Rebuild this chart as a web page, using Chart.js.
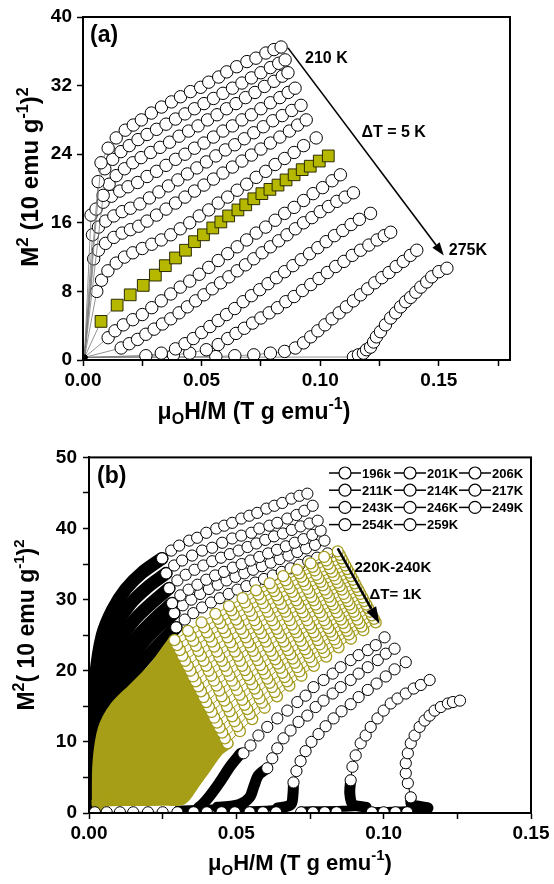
<!DOCTYPE html>
<html>
<head>
<meta charset="utf-8">
<script src="https://cdn.jsdelivr.net/npm/chart.js@4.4.1/dist/chart.umd.min.js"></script>
<style>
  html, body { margin: 0; padding: 0; background: #fff; }
  #wrap { position: relative; width: 554px; height: 884px; }
  canvas { position: absolute; left: 0; }
  #chartA { top: 0; }
  #chartB { top: 440px; }
</style>
</head>
<body>
<div id="wrap">
  <canvas id="chartA" width="554" height="440"></canvas>
  <canvas id="chartB" width="554" height="444"></canvas>
</div>
<script>
// ---------- panel (a): M^2 vs H/M, 210 K .. 275 K, step 5 K ----------
const a210 = [[0.0006,0.3],[0.0076,23.0],[0.0106,24.7],[0.0140,25.9],[0.0178,26.8],[0.0212,27.4],[0.0246,28.0],[0.0288,28.8],[0.0331,29.5],[0.0373,30.1],[0.0411,30.7],[0.0453,31.3],[0.0496,31.8],[0.0530,32.4],[0.0572,33.0],[0.0606,33.6],[0.0648,34.2],[0.0691,34.8],[0.0729,35.2],[0.0771,35.8],[0.0805,36.2],[0.0835,36.5]];
const a215 = [[0.0006,0.3],[0.0064,20.8],[0.0092,22.3],[0.0125,23.4],[0.0160,24.3],[0.0195,25.0],[0.0232,25.7],[0.0270,26.3],[0.0310,26.9],[0.0350,27.5],[0.0390,28.1],[0.0430,28.7],[0.0470,29.3],[0.0510,29.9],[0.0550,30.5],[0.0590,31.1],[0.0630,31.7],[0.0670,32.3],[0.0710,32.9],[0.0750,33.5],[0.0790,34.1],[0.0825,34.6],[0.0852,35.0]];
const a220 = [[0.0006,0.3],[0.0085,19.2],[0.0110,20.5],[0.0140,21.5],[0.0175,22.3],[0.0210,23.0],[0.0245,23.6],[0.0285,24.2],[0.0325,24.8],[0.0365,25.4],[0.0405,26.1],[0.0445,26.7],[0.0485,27.3],[0.0525,28.0],[0.0565,28.6],[0.0605,29.3],[0.0645,29.9],[0.0685,30.6],[0.0725,31.2],[0.0765,31.9],[0.0805,32.5],[0.0840,33.1],[0.0864,33.5]];
const a225 = [[0.0006,0.3],[0.0034,16.9],[0.0055,17.6],[0.0085,18.4],[0.0120,19.1],[0.0155,19.7],[0.0190,20.2],[0.0230,20.7],[0.0270,21.4],[0.0310,22.0],[0.0350,22.7],[0.0390,23.4],[0.0430,24.0],[0.0470,24.7],[0.0510,25.3],[0.0550,26.0],[0.0590,26.7],[0.0630,27.3],[0.0670,28.0],[0.0710,28.6],[0.0750,29.3],[0.0790,30.0],[0.0830,30.6],[0.0865,31.2],[0.0894,31.7]];
const a230 = [[0.0006,0.3],[0.0040,14.6],[0.0065,15.5],[0.0095,16.2],[0.0130,16.8],[0.0165,17.3],[0.0200,17.7],[0.0240,18.2],[0.0280,18.9],[0.0320,19.6],[0.0360,20.3],[0.0400,21.0],[0.0440,21.7],[0.0480,22.4],[0.0520,23.1],[0.0560,23.8],[0.0600,24.5],[0.0640,25.1],[0.0680,25.8],[0.0720,26.5],[0.0760,27.2],[0.0800,27.9],[0.0840,28.5],[0.0880,29.1],[0.0919,29.7]];
const a235 = [[0.0006,0.3],[0.0045,11.8],[0.0065,12.8],[0.0095,13.6],[0.0130,14.3],[0.0165,14.8],[0.0200,15.2],[0.0235,15.6],[0.0270,16.2],[0.0310,16.9],[0.0350,17.6],[0.0390,18.3],[0.0430,19.0],[0.0470,19.7],[0.0510,20.4],[0.0550,21.1],[0.0590,21.8],[0.0630,22.5],[0.0670,23.2],[0.0710,23.9],[0.0750,24.6],[0.0790,25.3],[0.0830,26.0],[0.0870,26.7],[0.0905,27.4],[0.0941,28.0]];
const a240 = [[0.0006,0.3],[0.0058,8.0],[0.0078,9.3],[0.0105,10.4],[0.0140,11.3],[0.0175,12.0],[0.0210,12.5],[0.0250,13.0],[0.0290,13.5],[0.0330,14.0],[0.0370,14.6],[0.0410,15.3],[0.0450,16.0],[0.0490,16.8],[0.0530,17.5],[0.0570,18.3],[0.0610,19.0],[0.0650,19.8],[0.0690,20.5],[0.0730,21.3],[0.0770,22.0],[0.0810,22.8],[0.0850,23.5],[0.0890,24.2],[0.0930,25.0],[0.0983,25.9]];
const a245 = [[0.0006,0.3],[0.0076,4.5],[0.0144,6.4],[0.0199,7.6],[0.0254,8.7],[0.0305,9.9],[0.0347,11.0],[0.0390,11.9],[0.0432,12.8],[0.0470,13.8],[0.0508,14.6],[0.0547,15.4],[0.0581,16.1],[0.0614,16.8],[0.0653,17.5],[0.0686,18.1],[0.0720,18.8],[0.0754,19.4],[0.0788,19.9],[0.0822,20.4],[0.0856,21.0],[0.0890,21.6],[0.0924,22.2],[0.0958,22.6],[0.0996,23.2],[0.1034,23.8]];
const a250 = [[0.0006,0.3],[0.0106,2.6],[0.0135,3.4],[0.0170,4.1],[0.0210,4.7],[0.0250,5.3],[0.0290,6.1],[0.0330,6.9],[0.0370,7.7],[0.0410,8.5],[0.0450,9.2],[0.0490,10.0],[0.0530,10.8],[0.0570,11.6],[0.0610,12.4],[0.0650,13.2],[0.0690,14.0],[0.0730,14.8],[0.0770,15.5],[0.0810,16.3],[0.0850,17.1],[0.0890,17.8],[0.0930,18.6],[0.0970,19.4],[0.1010,20.1],[0.1050,20.9],[0.1085,21.6]];
const a255 = [[0.0006,0.3],[0.0161,1.4],[0.0195,1.9],[0.0230,2.4],[0.0265,3.0],[0.0300,3.6],[0.0335,4.2],[0.0370,4.8],[0.0405,5.5],[0.0440,6.2],[0.0475,6.9],[0.0510,7.6],[0.0545,8.3],[0.0580,9.0],[0.0615,9.7],[0.0650,10.4],[0.0685,11.1],[0.0720,11.8],[0.0755,12.5],[0.0790,13.2],[0.0825,13.9],[0.0860,14.6],[0.0895,15.3],[0.0930,16.0],[0.0965,16.6],[0.1000,17.3],[0.1035,17.9],[0.1070,18.5],[0.1105,19.0],[0.1140,19.5]];
const a260 = [[0.0006,0.3],[0.0265,0.5],[0.0330,0.8],[0.0390,1.3],[0.0430,1.9],[0.0465,2.5],[0.0500,3.2],[0.0535,3.9],[0.0570,4.6],[0.0605,5.3],[0.0640,6.0],[0.0675,6.8],[0.0710,7.5],[0.0745,8.2],[0.0780,8.9],[0.0815,9.6],[0.0850,10.3],[0.0885,11.0],[0.0920,11.7],[0.0955,12.4],[0.0990,13.1],[0.1025,13.8],[0.1060,14.5],[0.1095,15.1],[0.1130,15.8],[0.1165,16.4],[0.1212,17.1]];
const a265 = [[0.0006,0.3],[0.0381,0.6],[0.0450,0.8],[0.0520,1.2],[0.0570,1.8],[0.0610,2.5],[0.0645,3.1],[0.0680,3.7],[0.0715,4.3],[0.0750,4.9],[0.0785,5.5],[0.0820,6.1],[0.0855,6.8],[0.0890,7.4],[0.0925,8.1],[0.0960,8.8],[0.0995,9.5],[0.1030,10.2],[0.1065,10.9],[0.1100,11.5],[0.1135,12.2],[0.1170,12.8],[0.1205,13.4],[0.1240,14.0],[0.1270,14.5],[0.1297,14.9]];
const a270 = [[0.0006,0.3],[0.0560,0.4],[0.0640,0.5],[0.0720,0.6],[0.0790,0.8],[0.0850,1.0],[0.0895,1.4],[0.0930,2.0],[0.0960,2.7],[0.0990,3.4],[0.1020,4.1],[0.1050,4.8],[0.1080,5.5],[0.1110,6.2],[0.1140,6.9],[0.1170,7.6],[0.1200,8.3],[0.1230,9.0],[0.1260,9.6],[0.1290,10.2],[0.1320,10.9],[0.1350,11.5],[0.1380,12.2],[0.1407,12.8]];
const a275 = [[0.0006,0.3],[0.1140,0.35],[0.1161,0.6],[0.1182,0.8],[0.1195,1.2],[0.1212,1.5],[0.1225,2.1],[0.1237,2.7],[0.1254,3.3],[0.1275,4.1],[0.1297,4.9],[0.1318,5.5],[0.1339,6.2],[0.1360,6.8],[0.1381,7.3],[0.1403,7.9],[0.1424,8.5],[0.1449,9.1],[0.1470,9.7],[0.1500,10.3],[0.1534,10.7]];

// ---------- panel (b) ----------
// 196-217 K: high-field open circles and dense low-field part
const b196 = [[0.0248,35.8],[0.0279,36.9],[0.0306,37.6],[0.0340,38.3],[0.0367,38.7],[0.0398,39.4],[0.0432,40.0],[0.0459,40.4],[0.0486,40.8],[0.0517,41.4],[0.0544,41.8],[0.0571,42.2],[0.0602,42.8],[0.0629,43.2],[0.0656,43.6],[0.0687,44.2],[0.0714,44.6],[0.0741,44.9]];
const b201 = [[0.0262,33.7],[0.0289,34.8],[0.0316,35.5],[0.0350,36.2],[0.0384,36.9],[0.0418,37.3],[0.0452,38.0],[0.0486,38.6],[0.0517,39.0],[0.0551,39.4],[0.0578,40.0],[0.0612,40.4],[0.0639,40.8],[0.0673,41.4],[0.0704,41.9],[0.0731,42.5],[0.0759,43.2]];
const b206 = [[0.0272,31.6],[0.0300,32.7],[0.0328,33.5],[0.0358,34.2],[0.0388,34.8],[0.0418,35.4],[0.0448,35.9],[0.0478,36.4],[0.0508,36.9],[0.0538,37.4],[0.0568,37.9],[0.0598,38.4],[0.0628,38.9],[0.0658,39.3],[0.0688,39.8],[0.0718,40.3],[0.0748,40.7],[0.0776,41.1]];
const b211 = [[0.0282,29.5],[0.0310,30.6],[0.0338,31.4],[0.0368,32.1],[0.0398,32.8],[0.0428,33.4],[0.0458,33.9],[0.0488,34.5],[0.0518,35.0],[0.0548,35.5],[0.0578,36.0],[0.0608,36.5],[0.0638,37.0],[0.0668,37.5],[0.0698,38.0],[0.0728,38.5],[0.0758,39.1],[0.0786,39.7]];
const b214 = [[0.0289,28.1],[0.0318,29.2],[0.0347,30.0],[0.0377,30.8],[0.0407,31.5],[0.0437,32.1],[0.0467,32.7],[0.0497,33.2],[0.0527,33.7],[0.0557,34.2],[0.0587,34.7],[0.0617,35.2],[0.0647,35.7],[0.0677,36.2],[0.0707,36.7],[0.0737,37.2],[0.0767,37.7],[0.0799,38.3]];
const b217 = [[0.0296,26.1],[0.0325,27.2],[0.0354,28.1],[0.0384,28.9],[0.0414,29.6],[0.0444,30.2],[0.0474,30.8],[0.0504,31.4],[0.0534,31.9],[0.0564,32.4],[0.0594,32.9],[0.0624,33.4],[0.0654,33.9],[0.0684,34.4],[0.0714,34.9],[0.0744,35.4],[0.0774,35.9],[0.0810,36.5]];
const b196lo = [[0.0004,0.5],[0.0010,10],[0.0022,19],[0.0045,25.0],[0.0080,28.6],[0.0125,31.5],[0.0180,33.8],[0.0248,35.8]];
const b201lo = [[0.0004,0.5],[0.0012,9],[0.0026,17],[0.0052,22.5],[0.0090,26.3],[0.0140,29.4],[0.0200,31.8],[0.0262,33.7]];
const b206lo = [[0.0004,0.5],[0.0014,8],[0.0030,15],[0.0060,20.2],[0.0100,24.0],[0.0155,27.2],[0.0215,29.6],[0.0272,31.6]];
const b211lo = [[0.0004,0.5],[0.0016,7],[0.0034,13],[0.0068,18.0],[0.0112,21.8],[0.0168,25.0],[0.0228,27.5],[0.0282,29.5]];
const b214lo = [[0.0004,0.5],[0.0018,6],[0.0038,11.5],[0.0074,16.5],[0.0120,20.4],[0.0178,23.7],[0.0236,26.2],[0.0289,28.1]];
const b217lo = [[0.0004,0.5],[0.0018,5],[0.0038,10.5],[0.0075,14.8],[0.0125,18.2],[0.0185,21.4],[0.0240,23.8],[0.0296,26.1]];

// 220-240 K (step 1 K): olive
const b220 = [[0.0290,24.3],[0.0336,25.6],[0.0382,26.8],[0.0429,28.0],[0.0475,29.1],[0.0521,30.2],[0.0567,31.3],[0.0613,32.3],[0.0659,33.3],[0.0706,34.2],[0.0752,35.1],[0.0798,36.0],[0.0844,36.8]];
const b221 = [[0.0299,23.6],[0.0345,24.9],[0.0391,26.1],[0.0437,27.3],[0.0483,28.5],[0.0529,29.6],[0.0575,30.7],[0.0621,31.7],[0.0667,32.7],[0.0713,33.7],[0.0759,34.6],[0.0805,35.5],[0.0851,36.3]];
const b222 = [[0.0308,22.9],[0.0354,24.2],[0.0400,25.4],[0.0445,26.7],[0.0491,27.9],[0.0537,29.0],[0.0583,30.1],[0.0628,31.2],[0.0674,32.2],[0.0720,33.2],[0.0766,34.1],[0.0811,35.0],[0.0857,35.8]];
const b223 = [[0.0317,22.1],[0.0363,23.5],[0.0408,24.8],[0.0454,26.0],[0.0499,27.2],[0.0545,28.4],[0.0590,29.5],[0.0636,30.6],[0.0681,31.6],[0.0727,32.6],[0.0772,33.5],[0.0818,34.4],[0.0863,35.3]];
const b224 = [[0.0326,21.4],[0.0371,22.8],[0.0417,24.1],[0.0462,25.4],[0.0507,26.6],[0.0553,27.8],[0.0598,28.9],[0.0643,30.0],[0.0689,31.1],[0.0734,32.1],[0.0779,33.0],[0.0825,33.9],[0.0870,34.8]];
const b225 = [[0.0335,20.7],[0.0380,22.1],[0.0425,23.4],[0.0470,24.7],[0.0515,25.9],[0.0561,27.1],[0.0606,28.3],[0.0651,29.4],[0.0696,30.5],[0.0741,31.5],[0.0786,32.5],[0.0831,33.4],[0.0876,34.3]];
const b226 = [[0.0344,20.0],[0.0389,21.4],[0.0434,22.7],[0.0479,24.0],[0.0524,25.3],[0.0568,26.5],[0.0613,27.7],[0.0658,28.8],[0.0703,29.9],[0.0748,31.0],[0.0793,32.0],[0.0838,32.9],[0.0883,33.8]];
const b227 = [[0.0353,19.2],[0.0398,20.7],[0.0442,22.0],[0.0487,23.4],[0.0532,24.7],[0.0576,25.9],[0.0621,27.1],[0.0666,28.3],[0.0710,29.4],[0.0755,30.4],[0.0800,31.4],[0.0844,32.4],[0.0889,33.3]];
const b228 = [[0.0362,18.5],[0.0406,20.0],[0.0451,21.4],[0.0495,22.7],[0.0540,24.0],[0.0584,25.3],[0.0629,26.5],[0.0673,27.7],[0.0718,28.8],[0.0762,29.9],[0.0807,30.9],[0.0851,31.9],[0.0896,32.8]];
const b229 = [[0.0371,17.8],[0.0415,19.3],[0.0460,20.7],[0.0504,22.1],[0.0548,23.4],[0.0592,24.7],[0.0637,25.9],[0.0681,27.1],[0.0725,28.2],[0.0769,29.3],[0.0814,30.4],[0.0858,31.4],[0.0902,32.3]];
const b230 = [[0.0380,17.1],[0.0424,18.6],[0.0468,20.0],[0.0512,21.4],[0.0556,22.8],[0.0600,24.1],[0.0644,25.3],[0.0688,26.5],[0.0732,27.7],[0.0776,28.8],[0.0820,29.8],[0.0864,30.8],[0.0908,31.8]];
const b231 = [[0.0389,16.3],[0.0433,17.9],[0.0477,19.3],[0.0520,20.7],[0.0564,22.1],[0.0608,23.4],[0.0652,24.7],[0.0696,25.9],[0.0740,27.1],[0.0783,28.2],[0.0827,29.3],[0.0871,30.3],[0.0915,31.3]];
const b232 = [[0.0398,15.6],[0.0442,17.2],[0.0485,18.6],[0.0529,20.1],[0.0572,21.5],[0.0616,22.8],[0.0660,24.1],[0.0703,25.4],[0.0747,26.5],[0.0791,27.7],[0.0834,28.8],[0.0878,29.8],[0.0921,30.8]];
const b233 = [[0.0407,14.9],[0.0450,16.4],[0.0494,18.0],[0.0537,19.4],[0.0581,20.8],[0.0624,22.2],[0.0667,23.5],[0.0711,24.8],[0.0754,26.0],[0.0798,27.1],[0.0841,28.2],[0.0884,29.3],[0.0928,30.3]];
const b234 = [[0.0416,14.2],[0.0459,15.8],[0.0502,17.3],[0.0546,18.8],[0.0589,20.2],[0.0632,21.6],[0.0675,22.9],[0.0718,24.2],[0.0762,25.4],[0.0805,26.6],[0.0848,27.7],[0.0891,28.8],[0.0934,29.8]];
const b235 = [[0.0425,13.4],[0.0468,15.0],[0.0511,16.6],[0.0554,18.1],[0.0597,19.6],[0.0640,21.0],[0.0683,22.3],[0.0726,23.6],[0.0769,24.9],[0.0812,26.0],[0.0855,27.2],[0.0898,28.3],[0.0941,29.3]];
const b236 = [[0.0434,12.7],[0.0477,14.3],[0.0520,15.9],[0.0562,17.5],[0.0605,18.9],[0.0648,20.4],[0.0691,21.7],[0.0733,23.0],[0.0776,24.3],[0.0819,25.5],[0.0862,26.7],[0.0904,27.8],[0.0947,28.8]];
const b237 = [[0.0443,12.0],[0.0486,13.6],[0.0528,15.2],[0.0571,16.8],[0.0613,18.3],[0.0656,19.7],[0.0698,21.1],[0.0741,22.5],[0.0783,23.7],[0.0826,25.0],[0.0869,26.1],[0.0911,27.2],[0.0954,28.3]];
const b238 = [[0.0452,11.3],[0.0494,12.9],[0.0537,14.6],[0.0579,16.1],[0.0621,17.7],[0.0664,19.1],[0.0706,20.5],[0.0748,21.9],[0.0791,23.2],[0.0833,24.4],[0.0875,25.6],[0.0918,26.7],[0.0960,27.8]];
const b239 = [[0.0461,10.5],[0.0503,12.2],[0.0545,13.9],[0.0587,15.5],[0.0630,17.0],[0.0672,18.5],[0.0714,19.9],[0.0756,21.3],[0.0798,22.6],[0.0840,23.9],[0.0882,25.1],[0.0925,26.2],[0.0967,27.3]];
const b240 = [[0.0470,9.8],[0.0512,11.5],[0.0554,13.2],[0.0596,14.8],[0.0638,16.4],[0.0680,17.9],[0.0721,19.3],[0.0763,20.7],[0.0805,22.0],[0.0847,23.3],[0.0889,24.5],[0.0931,25.7],[0.0973,26.8]];
const b220lo = [[0.0030,1.0],[0.0032,7.0],[0.0050,11.8],[0.0090,14.9],[0.0155,17.6],[0.0225,20.6],[0.0290,24.3]];
const b221lo = [[0.0030,1.1],[0.0036,6.8],[0.0060,11.4],[0.0105,14.4],[0.0172,17.2],[0.0242,20.1],[0.0299,23.6]];
const b222lo = [[0.0030,1.2],[0.0040,6.5],[0.0070,11.0],[0.0120,14.0],[0.0190,16.8],[0.0260,19.6],[0.0308,22.9]];
const b223lo = [[0.0030,1.2],[0.0047,6.2],[0.0082,10.5],[0.0135,13.5],[0.0205,16.2],[0.0272,19.0],[0.0317,22.1]];
const b224lo = [[0.0030,1.3],[0.0055,5.8],[0.0095,9.9],[0.0150,12.9],[0.0220,15.6],[0.0285,18.4],[0.0326,21.4]];
const b225lo = [[0.0030,1.3],[0.0065,5.4],[0.0110,9.3],[0.0168,12.3],[0.0235,14.9],[0.0295,17.8],[0.0335,20.7]];
const b226lo = [[0.0030,1.4],[0.0075,5.0],[0.0125,8.7],[0.0185,11.7],[0.0250,14.3],[0.0305,17.2],[0.0344,20.0]];
const b227lo = [[0.0030,1.4],[0.0085,4.6],[0.0140,8.1],[0.0200,11.0],[0.0262,13.6],[0.0315,16.5],[0.0353,19.2]];
const b228lo = [[0.0030,1.5],[0.0095,4.3],[0.0155,7.5],[0.0215,10.3],[0.0275,12.9],[0.0325,15.8],[0.0362,18.5]];
const b229lo = [[0.0030,1.5],[0.0108,3.9],[0.0170,6.8],[0.0230,9.6],[0.0288,12.2],[0.0335,15.0],[0.0371,17.8]];
const b230lo = [[0.0030,1.6],[0.0120,3.6],[0.0185,6.2],[0.0245,8.9],[0.0300,11.5],[0.0345,14.3],[0.0380,17.1]];
const b231lo = [[0.0030,1.6],[0.0132,3.3],[0.0200,5.6],[0.0260,8.2],[0.0312,10.8],[0.0355,13.6],[0.0389,16.3]];
const b232lo = [[0.0030,1.7],[0.0145,3.0],[0.0215,5.0],[0.0275,7.5],[0.0325,10.1],[0.0365,12.9],[0.0398,15.6]];
const b233lo = [[0.0030,1.7],[0.0160,2.7],[0.0230,4.4],[0.0288,6.8],[0.0335,9.3],[0.0375,12.1],[0.0407,14.9]];
const b234lo = [[0.0030,1.7],[0.0175,2.5],[0.0245,3.9],[0.0300,6.1],[0.0345,8.6],[0.0385,11.4],[0.0416,14.2]];
const b235lo = [[0.0030,1.8],[0.0188,2.3],[0.0258,3.4],[0.0310,5.4],[0.0355,7.9],[0.0395,10.6],[0.0425,13.4]];
const b236lo = [[0.0030,1.8],[0.0200,2.2],[0.0270,3.0],[0.0320,4.8],[0.0365,7.2],[0.0405,9.9],[0.0434,12.7]];
const b237lo = [[0.0030,1.8],[0.0215,2.1],[0.0285,2.7],[0.0332,4.4],[0.0377,6.7],[0.0415,9.4],[0.0443,12.0]];
const b238lo = [[0.0030,1.8],[0.0230,2.0],[0.0300,2.5],[0.0345,4.0],[0.0390,6.3],[0.0425,8.9],[0.0452,11.3]];
const b239lo = [[0.0030,1.8],[0.0240,1.9],[0.0308,2.3],[0.0350,4.0],[0.0392,6.3],[0.0430,8.6],[0.0461,10.5]];
const b240lo = [[0.0030,1.8],[0.0250,1.9],[0.0316,2.0],[0.0355,4.1],[0.0395,6.4],[0.0435,8.7],[0.0470,9.8]];

// 243-259 K: points on the baseline, then the rising branch
const b243 = [[0.0020,0.1],[0.0060,0.1],[0.0105,0.1],[0.0150,0.1],[0.0200,0.1],[0.0250,0.1],[0.0300,0.1],[0.0524,8.4],[0.0548,9.5],[0.0575,10.9],[0.0605,12.1],[0.0639,13.3],[0.0673,14.4],[0.0707,15.6],[0.0735,16.5],[0.0762,17.7],[0.0796,18.7],[0.0827,19.6],[0.0854,20.5],[0.0888,21.5],[0.0915,22.2],[0.0946,22.9],[0.0973,23.6],[0.1003,24.7]];
const b246 = [[0.0355,0.1],[0.0400,0.1],[0.0450,0.1],[0.0495,0.1],[0.0605,6.3],[0.0622,7.7],[0.0639,9.1],[0.0660,10.5],[0.0684,11.6],[0.0711,12.8],[0.0741,13.7],[0.0769,14.9],[0.0796,15.8],[0.0827,16.8],[0.0854,17.7],[0.0888,18.7],[0.0915,19.6],[0.0946,20.5],[0.0980,21.5],[0.1007,22.4],[0.1037,23.1]];
const b249 = [[0.0545,0.1],[0.0590,0.1],[0.0635,0.1],[0.0694,4.3],[0.0704,5.9],[0.0718,7.3],[0.0735,8.7],[0.0755,10.0],[0.0779,11.1],[0.0803,12.2],[0.0830,13.3],[0.0857,14.3],[0.0888,15.3],[0.0915,16.3],[0.0946,17.3],[0.0976,18.2],[0.1007,19.2],[0.1037,20.2],[0.1075,21.2]];
const b254 = [[0.0720,0.1],[0.0760,0.1],[0.0800,0.1],[0.0840,0.1],[0.0888,4.6],[0.0894,6.5],[0.0905,8.1],[0.0922,9.8],[0.0939,10.9],[0.0956,12.1],[0.0979,13.3],[0.1000,14.4],[0.1024,15.4],[0.1047,16.1],[0.1075,16.8],[0.1102,17.5],[0.1126,18.0],[0.1156,18.7]];
const b259 = [[0.0960,0.1],[0.1000,0.1],[0.1040,0.1],[0.1080,0.1],[0.1092,2.2],[0.1082,4.2],[0.1075,5.6],[0.1075,7.0],[0.1082,8.4],[0.1092,9.8],[0.1105,10.9],[0.1122,12.1],[0.1139,13.0],[0.1156,13.7],[0.1173,14.4],[0.1194,14.9],[0.1218,15.4],[0.1235,15.6],[0.1259,15.8]];
const b243lo = [[0.0300,0.5],[0.0350,0.6],[0.0372,0.8],[0.0400,1.9],[0.0440,4.1],[0.0480,6.6],[0.0515,8.4]];
const b246lo = [[0.0300,0.6],[0.0435,0.8],[0.0510,1.2],[0.0545,2.2],[0.0560,3.8],[0.0575,5.3],[0.0605,6.3]];
const b249lo = [[0.0500,0.5],[0.0640,0.7],[0.0685,1.2],[0.0692,2.5],[0.0694,4.3]];
const b254lo = [[0.0720,0.5],[0.0860,0.6],[0.0940,0.8],[0.0895,1.2],[0.0885,2.8],[0.0888,4.6]];
const b259lo = [[0.0950,0.4],[0.1060,0.5],[0.1150,0.7],[0.1095,1.2],[0.1092,2.2]];

const legendLabels = ['196k', '201K', '206K', '211K', '214K', '217K', '243K', '246K', '249K', '254K', '259K'];

// ---------- styling ----------
const FONT = 'Arial, "Liberation Sans", Helvetica, sans-serif';
const OLIVE = '#a69e16';
const OLIVE_EDGE = '#a39b1c';
Chart.defaults.font.family = FONT;
Chart.defaults.color = '#000';

function circleA(data) {
    return {
        data: data, showLine: true, borderColor: '#777', borderWidth: 0.8, clip: 0,
        pointRadius: c => c.dataIndex === 0 ? 2.5 : 6.2,
        pointBackgroundColor: c => c.dataIndex === 0 ? '#000' : '#fff',
        pointBorderColor: '#000', pointBorderWidth: 1
    };
}
function squareA(data) {
    return {
        data: data, showLine: true, borderColor: '#777', borderWidth: 0.8, clip: 0,
        pointStyle: 'rect',
        pointRadius: c => c.dataIndex === 0 ? 2.5 : 8.3,
        pointBackgroundColor: c => c.dataIndex === 0 ? '#000' : '#b6b800',
        pointBorderColor: '#2b2b00', pointBorderWidth: 1
    };
}
function thick(data, color, width, order) {
    return {
        data: data, showLine: true, borderColor: color, borderWidth: width, order: order,
        borderCapStyle: 'round', borderJoinStyle: 'round', tension: 0.3, pointRadius: 0, clip: 0
    };
}
function openB(data, edge, r, lineColor, order, bw) {
    return {
        data: data, showLine: true, borderColor: lineColor, borderWidth: 1, order: order, clip: 0,
        pointRadius: r, pointBackgroundColor: '#fff', pointBorderColor: edge, pointBorderWidth: bw || 1,
        segment: { borderColor: c => (c.p0.parsed.y < 0.3 && c.p1.parsed.y > 0.3) ? 'rgba(0,0,0,0)' : undefined }
    };
}

function axisX(max, label) {
    return {
        type: 'linear', min: 0, max: max,
        afterFit: s => { s.height = label; },
        border: { color: '#000', width: 2 },
        grid: { drawOnChartArea: false, tickLength: 6, tickWidth: 1.5, tickColor: '#000' },
        ticks: {
            stepSize: 0.025, includeBounds: false, autoSkip: false, maxRotation: 0, padding: 3,
            font: { size: 19, weight: 'bold' },
            callback: v => { const r = v / 0.05; return Math.abs(r - Math.round(r)) < 1e-6 ? v.toFixed(2) : ''; }
        }
    };
}
function axisY(max, step, every, width, pad) {
    return {
        type: 'linear', min: 0, max: max,
        afterFit: s => { s.width = width; },
        border: { color: '#000', width: 2 },
        grid: { drawOnChartArea: false, tickLength: 6, tickWidth: 1.5, tickColor: '#000' },
        ticks: {
            stepSize: step, autoSkip: false, padding: pad,
            font: { size: 19, weight: 'bold' },
            callback: v => (Math.round(v) % every === 0) ? String(Math.round(v)) : ''
        }
    };
}

// rich text: parts of {t, s, dy}
function drawRich(ctx, parts, cx, cy, rotate) {
    ctx.save();
    ctx.translate(cx, cy);
    if (rotate) ctx.rotate(-Math.PI / 2);
    let w = 0;
    parts.forEach(p => { ctx.font = `bold ${p.s}px ${FONT}`; w += ctx.measureText(p.t).width; });
    let x = -w / 2;
    ctx.fillStyle = '#000';
    ctx.textBaseline = 'alphabetic';
    ctx.textAlign = 'left';
    parts.forEach(p => {
        ctx.font = `bold ${p.s}px ${FONT}`;
        ctx.fillText(p.t, x, p.dy || 0);
        x += ctx.measureText(p.t).width;
    });
    ctx.restore();
}

function arrow(ctx, x1, y1, x2, y2, width, headLen, headW) {
    const ang = Math.atan2(y2 - y1, x2 - x1);
    const bx = x2 - headLen * Math.cos(ang), by = y2 - headLen * Math.sin(ang);
    ctx.save();
    ctx.strokeStyle = '#000'; ctx.fillStyle = '#000'; ctx.lineWidth = width;
    ctx.beginPath(); ctx.moveTo(x1, y1); ctx.lineTo(bx, by); ctx.stroke();
    ctx.beginPath();
    ctx.moveTo(x2, y2);
    ctx.lineTo(bx + headW / 2 * Math.sin(ang), by - headW / 2 * Math.cos(ang));
    ctx.lineTo(bx - headW / 2 * Math.sin(ang), by + headW / 2 * Math.cos(ang));
    ctx.closePath(); ctx.fill();
    ctx.restore();
}

function decor(opts) {
    return {
        id: 'decor',
        afterDatasetsDraw(chart) {
            const { ctx, chartArea: a, scales: { x, y } } = chart;
            ctx.save();
            ctx.strokeStyle = '#000'; ctx.lineWidth = 2;
            ctx.strokeRect(a.left, a.top, a.right - a.left, a.bottom - a.top);
            ctx.restore();
            const ar = opts.arrow;
            arrow(ctx, x.getPixelForValue(ar[0]), y.getPixelForValue(ar[1]),
                x.getPixelForValue(ar[2]), y.getPixelForValue(ar[3]), ar[4], ar[5], ar[6]);
            ctx.save();
            ctx.fillStyle = '#000'; ctx.textBaseline = 'middle'; ctx.textAlign = 'left';
            opts.notes.forEach(n => {
                ctx.font = `bold ${n[3]}px ${FONT}`;
                ctx.fillText(n[0], x.getPixelForValue(n[1]), y.getPixelForValue(n[2]));
            });
            ctx.font = `bold 23px ${FONT}`;
            ctx.fillText(opts.panel, a.left + opts.panelDx, a.top + 19);
            ctx.restore();
            drawRich(ctx, opts.xTitle, opts.xTitlePos[0], opts.xTitlePos[1], false);
            drawRich(ctx, opts.yTitle, opts.yTitlePos[0], opts.yTitlePos[1], true);
            if (opts.legend) opts.legend(ctx);
        }
    };
}

const xTitleParts = s => [
    { t: 'μ', s: s }, { t: 'O', s: Math.round(s * 0.68), dy: 5 },
    { t: 'H/M (T g emu', s: s }, { t: '-1', s: Math.round(s * 0.68), dy: -10 }, { t: ')', s: s }
];

// ---------- chart (a) ----------
const setsA = [a210, a215, a220, a225, a230, a235, a240, a245, a250, a255, a260, a265, a270, a275]
    .map(d => d === a245 ? squareA(d) : circleA(d));

new Chart(document.getElementById('chartA'), {
    type: 'scatter',
    data: { datasets: setsA },
    options: {
        responsive: false, animation: false, events: [],
        layout: { padding: { top: 17, right: 44, left: 0, bottom: 0 } },
        plugins: { legend: { display: false }, tooltip: { enabled: false } },
        scales: { x: axisX(0.18, 80), y: axisY(40, 8, 8, 83, 5) }
    },
    plugins: [decor({
        arrow: [0.0864, 36.4, 0.1521, 12.2, 1.6, 13, 9],
        notes: [['210 K', 0.0936, 35.2, 16], ['ΔT = 5 K', 0.1174, 26.5, 16], ['275K', 0.1542, 12.8, 16]],
        panel: '(a)', panelDx: 7,
        xTitle: xTitleParts(23), xTitlePos: [254, 419],
        yTitle: [{ t: 'M', s: 24 }, { t: '2', s: 17, dy: -10 }, { t: ' (10 emu g', s: 24 },
                 { t: '-1', s: 16, dy: -10 }, { t: ')', s: 24 }, { t: '2', s: 16, dy: -10 }],
        yTitlePos: [38, 177]
    })]
});

// ---------- chart (b) ----------
const blackLo = [b196lo, b201lo, b206lo, b211lo, b214lo, b217lo].map(d => thick(d, '#000', 13, 60));
const hotLo = [b243lo, b246lo, b249lo, b254lo, b259lo].map(d => {
    const s = thick(d, '#000', 11, 55);
    s.segment = { borderWidth: c => (c.p0.parsed.y < 0.9 && c.p1.parsed.y < 0.9) ? 6 : 11 };
    return s;
});
const oliveLo = [b220lo, b221lo, b222lo, b223lo, b224lo, b225lo, b226lo, b227lo, b228lo, b229lo, b230lo,
    b231lo, b232lo, b233lo, b234lo, b235lo, b236lo, b237lo, b238lo, b239lo, b240lo].map(d => thick(d, OLIVE, 12, 50));
const blackHi = [b196, b201, b206, b211, b214, b217].map(d => openB(d, '#000', 5.6, '#000', 40, 1));
const oliveHi = [b220, b221, b222, b223, b224, b225, b226, b227, b228, b229, b230,
    b231, b232, b233, b234, b235, b236, b237, b238, b239, b240].map(d => openB(d, OLIVE_EDGE, 5.5, OLIVE_EDGE, 30, 1.3));
const hotHi = [b243, b246, b249, b254, b259].map(d => openB(d, '#000', 5.6, '#000', 20, 1));

function legendB(ctx) {
    ctx.save();
    legendLabels.forEach((lab, i) => {
        const cx = 345 + 65 * (i % 3);
        const cy = 33 + 17.2 * Math.floor(i / 3);
        ctx.strokeStyle = '#000'; ctx.lineWidth = 1.5;
        ctx.beginPath(); ctx.moveTo(cx - 16, cy); ctx.lineTo(cx + 16, cy); ctx.stroke();
        ctx.beginPath(); ctx.arc(cx, cy, 6, 0, Math.PI * 2);
        ctx.fillStyle = '#fff'; ctx.fill(); ctx.lineWidth = 1.2; ctx.stroke();
        ctx.fillStyle = '#000'; ctx.font = `bold 13px ${FONT}`;
        ctx.textBaseline = 'middle'; ctx.textAlign = 'left';
        ctx.fillText(lab, cx + 17, cy + 1);
    });
    ctx.restore();
}

new Chart(document.getElementById('chartB'), {
    type: 'scatter',
    data: { datasets: [...blackLo, ...hotLo, ...oliveLo, ...blackHi, ...oliveHi, ...hotHi] },
    options: {
        responsive: false, animation: false, events: [],
        layout: { padding: { top: 17, right: 23, left: 0, bottom: 0 } },
        plugins: { legend: { display: false }, tooltip: { enabled: false } },
        scales: { x: axisX(0.15, 71), y: axisY(50, 5, 10, 89, 6) }
    },
    plugins: [decor({
        arrow: [0.0844, 37.2, 0.0986, 26.6, 2.5, 17, 11],
        notes: [['220K-240K', 0.0901, 34.5, 15], ['ΔT= 1K', 0.0952, 30.7, 15]],
        panel: '(b)', panelDx: 8,
        xTitle: xTitleParts(22), xTitlePos: [300, 430],
        yTitle: [{ t: 'M', s: 23 }, { t: '2', s: 16, dy: -10 }, { t: '( 10 emu g', s: 23 },
                 { t: '-1', s: 15, dy: -10 }, { t: ')', s: 23 }, { t: '2', s: 15, dy: -10 }],
        yTitlePos: [34, 185],
        legend: legendB
    })]
});
</script>
</body>
</html>
